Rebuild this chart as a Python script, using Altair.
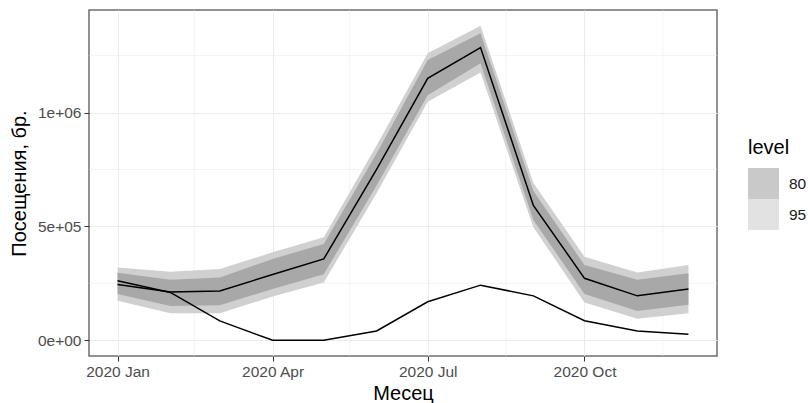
import altair as alt
import pandas as pd

months = ["2020-01-01", "2020-02-01", "2020-03-01", "2020-04-01", "2020-05-01", "2020-06-01",
          "2020-07-01", "2020-08-01", "2020-09-01", "2020-10-01", "2020-11-01", "2020-12-01"]
actual = [261000, 210000, 85000, 0, 0, 41000, 169000, 242000, 195000, 86000, 41000, 26000]
mean = [245000, 212000, 216000, 289000, 357000, 750000, 1150000, 1285000, 592000, 272000, 195000, 225000]
lo80 = [203000, 151000, 154000, 225000, 290000, 680000, 1076000, 1216000, 528000, 203000, 129000, 156000]
hi80 = [296000, 266000, 276000, 357000, 423000, 820000, 1230000, 1348000, 655000, 330000, 266000, 294000]
lo95 = [173000, 119000, 119000, 192000, 254000, 645000, 1047000, 1176000, 496000, 166000, 95000, 119000]
hi95 = [320000, 301000, 313000, 386000, 452000, 855000, 1260000, 1381000, 690000, 367000, 298000, 330000]

major_x = ["2020-01-01", "2020-04-01", "2020-07-01", "2020-10-01"]
minor_x = ["2020-02-15", "2020-05-16", "2020-08-16", "2020-11-16"]
major_y = [0, 500000, 1000000]
minor_y = [250000, 750000, 1250000]
levels = ["80", "95"]

df = pd.DataFrame({"month": months, "actual": actual, "mean": mean,
                   "lo80": lo80, "hi80": hi80, "lo95": lo95, "hi95": hi95})
df["l80"] = "80"
df["l95"] = "95"

# scale limits with ggplot-like 5% expansion
t0 = pd.Timestamp(months[0]); t1 = pd.Timestamp(months[-1])
dt = (t1 - t0) * 0.05
xdom = [(t0 - dt).isoformat(), (t1 + dt).isoformat()]
ymin = min(min(actual), min(lo95)); ymax = max(hi95)
dy = (ymax - ymin) * 0.05
ydom = [ymin - dy, ymax + dy]

FONT = "Liberation Sans"
XT = "Месец"
YT = "Посещения, бр."
xscale = alt.Scale(domain=xdom)
yscale = alt.Scale(domain=ydom, nice=False, zero=False)

xaxis = alt.Axis(values=major_x, format="%Y %b", labelColor="#4d4d4d", labelFontSize=15.5,
                 labelFont=FONT, titleFont=FONT, titleFontSize=20, titleFontWeight="normal",
                 titleColor="#000000", tickColor="#333333", tickSize=5, labelPadding=3,
                 titlePadding=4, grid=True, gridColor="#ebebeb", gridWidth=1,
                 domain=False, labelFlush=False)
yaxis = alt.Axis(values=major_y,
                 labelExpr="datum.value == 0 ? '0e+00' : datum.value == 500000 ? '5e+05' : '1e+06'",
                 labelColor="#4d4d4d", labelFontSize=15.5, labelFont=FONT,
                 titleFont=FONT, titleFontSize=20, titleFontWeight="normal",
                 titleColor="#000000", tickColor="#333333", tickSize=5, labelPadding=3,
                 titlePadding=8, grid=True, gridColor="#ebebeb", gridWidth=1, domain=False)

minx_df = pd.DataFrame({"m": minor_x})
miny_df = pd.DataFrame({"v": minor_y})

minor_x_rules = alt.Chart(minx_df).mark_rule(color="#ebebeb", strokeWidth=0.6).encode(
    x=alt.X("m:T", scale=xscale, axis=xaxis, title=XT))
minor_y_rules = alt.Chart(miny_df).mark_rule(color="#ebebeb", strokeWidth=0.6).encode(
    y=alt.Y("v:Q", scale=yscale, axis=yaxis, title=YT))

color_scale = alt.Scale(domain=levels, range=["#a8a8a8", "#d0d0d0"])
legend = alt.Legend(title="level", orient="none", legendX=659, legendY=128,
                    symbolType="square", symbolSize=961, symbolStrokeWidth=0,
                    symbolOpacity=0.62, rowPadding=0, labelOffset=10,
                    labelFont=FONT, labelFontSize=15.5, labelColor="#1a1a1a",
                    titleFont=FONT, titleFontSize=20, titleFontWeight="normal",
                    titleColor="#000000", titlePadding=10)

base = alt.Chart(df)
X = alt.X("month:T", title=XT)

band95 = base.mark_area(opacity=1).encode(
    x=X,
    y=alt.Y("lo95:Q", title=YT),
    y2="hi95:Q",
    fill=alt.Fill("l95:N", scale=color_scale, legend=legend),
)
band80 = base.mark_area(opacity=1).encode(
    x=X, y=alt.Y("lo80:Q", title=YT), y2="hi80:Q",
    fill=alt.Fill("l80:N", scale=color_scale, legend=legend),
)
line_mean = base.mark_line(color="#000000", strokeWidth=1.5).encode(x=X, y=alt.Y("mean:Q", title=YT))
line_act = base.mark_line(color="#000000", strokeWidth=1.5).encode(x=X, y=alt.Y("actual:Q", title=YT))

chart = alt.layer(minor_x_rules, minor_y_rules, band95, band80, line_mean, line_act).properties(
    width=628, height=346,
    background="#ffffff",
    autosize=alt.AutoSizeParams(type="none"),
    padding={"left": 89, "top": 10, "right": 91, "bottom": 47},
).configure_view(stroke="#6e6e6e", strokeWidth=1.5)

chart.save("out.html", embed_options={"renderer": "svg", "actions": False})
